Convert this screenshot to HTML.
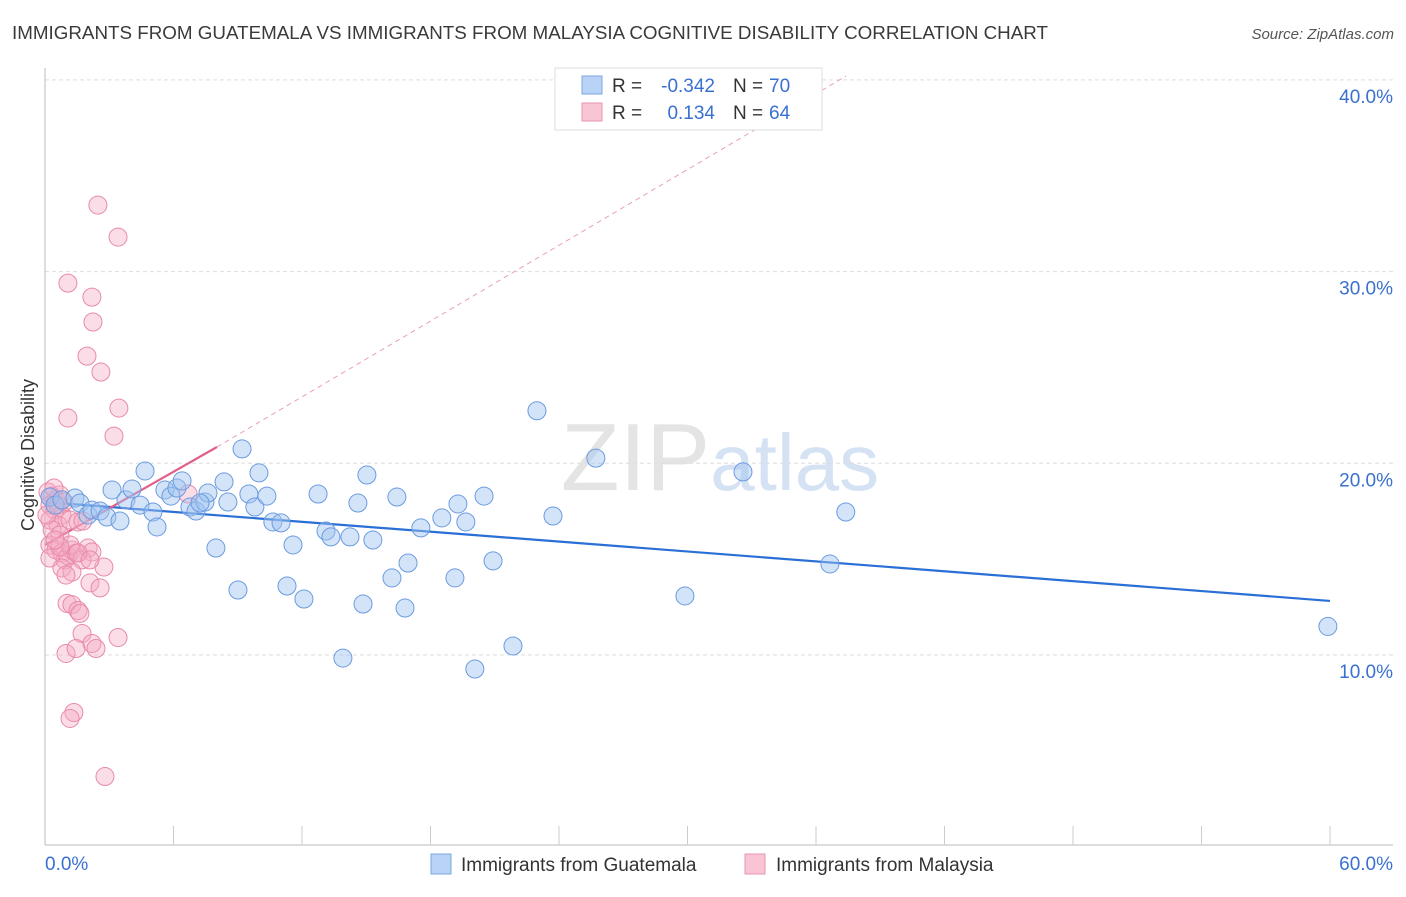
<!DOCTYPE html>
<html><head><meta charset="utf-8"><style>
body{margin:0;background:#fff;font-family:"Liberation Sans",sans-serif;}
svg text{font-family:"Liberation Sans",sans-serif;}
</style></head><body>
<svg id="chart" width="1406" height="892" xmlns="http://www.w3.org/2000/svg">
<text x="12" y="39" font-size="18" fill="#3a3a3a" textLength="1036" lengthAdjust="spacingAndGlyphs">IMMIGRANTS FROM GUATEMALA VS IMMIGRANTS FROM MALAYSIA COGNITIVE DISABILITY CORRELATION CHART</text>
<text x="1394" y="39" font-size="15" fill="#555" font-style="italic" text-anchor="end">Source: ZipAtlas.com</text>
<text x="720" y="490" font-size="96" fill="#e4e4e4" text-anchor="middle" font-family="Liberation Serif">ZIP<tspan fill="#d4e2f4" font-family="Liberation Sans" font-size="80">atlas</tspan></text>
<text transform="translate(34,455) rotate(-90)" font-size="18" fill="#333" text-anchor="middle">Cognitive Disability</text>
<g id="grid"></g><g id="axes"></g><g id="trends"></g><g id="pts"></g>
<g>
<rect x="555" y="68" width="267" height="62" fill="#fff" stroke="#ddd"/>
<rect x="582" y="76" width="20" height="18" fill="#b8d3f5" stroke="#7ea7e0"/>
<rect x="582" y="103" width="20" height="18" fill="#f9c5d4" stroke="#e994b0"/>
<text x="612" y="92" font-size="19" fill="#333">R =</text>
<text x="715" y="92" font-size="19" fill="#3a70d0" text-anchor="end">-0.342</text>
<text x="733" y="92" font-size="19" fill="#333">N =</text>
<text x="769" y="92" font-size="19" fill="#3a70d0">70</text>
<text x="612" y="119" font-size="19" fill="#333">R =</text>
<text x="715" y="119" font-size="19" fill="#3a70d0" text-anchor="end">0.134</text>
<text x="733" y="119" font-size="19" fill="#333">N =</text>
<text x="769" y="119" font-size="19" fill="#3a70d0">64</text>
</g>
<g>
<rect x="431" y="854" width="20" height="20" fill="#b8d3f5" stroke="#7ea7e0"/>
<text x="461" y="871" font-size="19" fill="#333">Immigrants from Guatemala</text>
<rect x="745" y="854" width="20" height="20" fill="#f9c5d4" stroke="#e994b0"/>
<text x="776" y="871" font-size="19" fill="#333">Immigrants from Malaysia</text>
</g>
</svg>
<script>
const blueX=[0.23,0.47,0.79,1.40,1.63,2.01,2.19,2.57,2.89,3.13,3.50,3.78,4.06,4.44,4.67,5.04,5.23,5.60,5.88,6.16,6.40,6.77,7.05,7.47,7.61,8.36,8.54,9.01,9.20,7.98,9.52,9.80,9.99,10.36,10.64,11.02,11.30,11.58,12.09,12.75,13.12,13.35,13.91,14.24,14.61,14.85,15.03,15.31,16.20,16.43,16.81,16.95,17.55,18.53,19.14,19.28,19.65,20.07,20.50,20.92,21.85,22.97,23.72,25.72,29.88,32.59,36.65,37.39,59.90,7.24];
const blueY=[18.24,17.82,18.09,18.19,17.93,17.30,17.56,17.51,17.20,18.61,16.99,18.09,18.66,17.82,19.60,17.46,16.68,18.61,18.29,18.71,19.08,17.72,17.51,17.98,18.45,19.03,17.98,13.39,20.75,15.58,18.40,17.72,19.50,18.29,16.94,16.89,13.60,15.74,12.92,18.40,16.47,16.16,9.84,16.16,17.93,12.66,19.39,16.00,14.02,18.24,12.45,14.80,16.63,17.15,14.02,17.88,16.94,9.27,18.29,14.91,10.47,22.74,17.25,20.27,13.08,19.55,14.75,17.46,11.49,17.93];
const pinkX=[2.47,3.41,1.07,2.19,2.24,1.96,2.61,3.45,1.07,3.22,0.14,0.33,0.51,0.70,0.23,0.47,0.79,0.23,0.61,1.17,1.54,0.33,0.70,0.23,0.51,0.79,1.07,1.26,0.93,1.45,2.01,2.19,1.73,0.23,0.79,1.26,2.10,2.57,2.75,1.03,1.26,1.54,1.63,1.73,2.19,2.38,3.41,0.98,1.45,1.35,1.17,2.80,6.68,1.77,0.42,0.09,0.61,0.89,1.17,0.70,0.47,1.54,0.98,2.10];
const pinkY=[33.47,31.80,29.40,28.67,27.37,25.59,24.76,22.88,22.36,21.42,18.50,18.29,18.09,18.35,17.82,17.56,17.30,17.04,16.78,17.04,16.94,16.52,16.26,15.74,15.48,15.32,15.17,15.48,14.96,15.32,15.58,15.37,14.96,15.06,14.54,14.33,13.76,13.50,14.59,12.69,12.63,12.32,12.17,11.12,10.60,10.34,10.91,10.08,10.34,7.00,6.69,3.66,18.40,16.99,18.71,17.30,17.82,17.98,15.74,15.64,16.00,15.32,14.17,14.96];
const yTicks=[10,20,30,40];
const yTickLabels=["10.0%","20.0%","30.0%","40.0%"];
const blueTrend=[[0,17.98],[60,12.82]];
const pinkTrend=[[0,15.74],[8.03,20.85]];
const pinkDash=[[8.03,20.85],[37.4,40.2]];
const NS="http://www.w3.org/2000/svg";
const xs=v=>45+v*21.417, ys=v=>846.7-v*19.17;
function mk(t,a,p){const e=document.createElementNS(NS,t);for(const k in a)e.setAttribute(k,a[k]);p.appendChild(e);return e;}
const grid=document.getElementById('grid'),axes=document.getElementById('axes');
yTicks.forEach((t,i)=>{
 const l=mk('line',{x1:45,x2:1393,y1:ys(t),y2:ys(t),stroke:'#ddd','stroke-dasharray':'4,3'},grid);
 
 
 const tx=mk('text',{x:1393,y:ys(t)+23,'font-size':19,fill:'#3a70d0','text-anchor':'end'},grid);
 tx.textContent=yTickLabels[i];
 
 
});
const ya=mk('line',{x1:45,x2:45,y1:68,y2:845,stroke:'#bbb'},axes);


const xa=mk('line',{x1:45,x2:1393,y1:845,y2:845,stroke:'#bbb'},axes);


for(let i=1;i<=10;i++){const tk=mk('line',{x1:xs(i*6),x2:xs(i*6),y1:826,y2:845,stroke:'#ccc'},axes);
 
 }
[["0.0%",45,'start'],["60.0%",1393,'end']].forEach(d=>{const t=mk('text',{x:d[1],y:870,'font-size':19,fill:'#3a70d0','text-anchor':d[2]},axes);t.textContent=d[0];
 
 });
const pts=document.getElementById('pts');
pinkX.forEach((x,i)=>{const c=mk('circle',{cx:xs(x),cy:ys(pinkY[i]),r:9,fill:'rgba(245,170,195,0.4)',stroke:'#e88aaa','stroke-width':1},pts);
 
 });
blueX.forEach((x,i)=>{const c=mk('circle',{cx:xs(x),cy:ys(blueY[i]),r:9,fill:'rgba(160,196,240,0.45)',stroke:'#6b9be0','stroke-width':1},pts);
 
 });
const tr=document.getElementById('trends');
function ln(p,st,w,dash,name){const l=mk('line',{x1:xs(p[0][0]),y1:ys(p[0][1]),x2:xs(p[1][0]),y2:ys(p[1][1]),stroke:st,'stroke-width':w},tr);if(dash)l.setAttribute('stroke-dasharray',dash);
 
 }
ln(pinkDash,'#e9a0b8',1,'5,4','malaysia-trend-extension');
ln(blueTrend,'#2a6fd6',2.2,null,'guatemala-trend-line');
ln(pinkTrend,'#e0608a',2.2,null,'malaysia-trend-line');
</script>
</body></html>
